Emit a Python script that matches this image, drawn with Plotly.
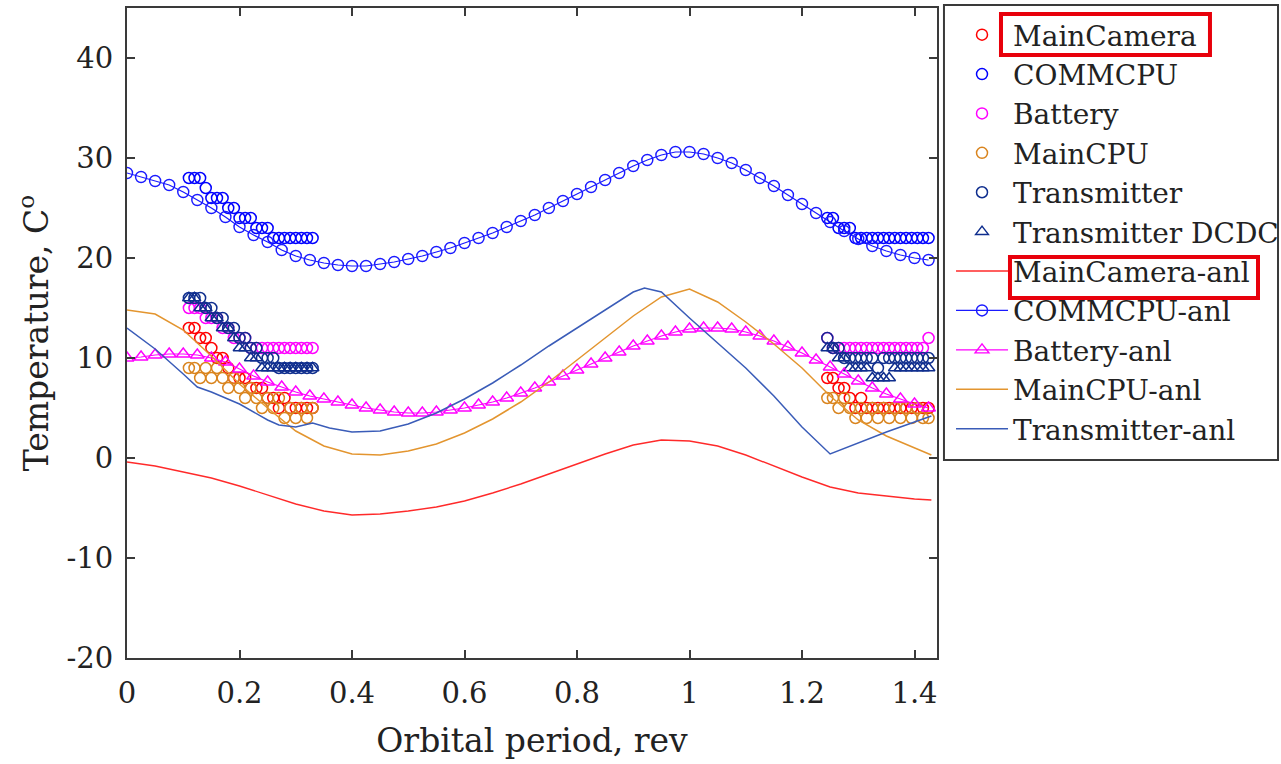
import plotly.graph_objects as go

# ---------------- data ----------------
# measurement windows (orbital period, rev)
t_left = [0.11, 0.12, 0.13, 0.14, 0.15, 0.16, 0.17, 0.18, 0.19, 0.20, 0.21, 0.22,
          0.23, 0.24, 0.25, 0.26, 0.27, 0.28, 0.29, 0.30, 0.31, 0.32, 0.33]
t_right = [1.245, 1.255, 1.265, 1.275, 1.285, 1.295, 1.305, 1.315, 1.325, 1.335,
           1.345, 1.355, 1.365, 1.375, 1.385, 1.395, 1.405, 1.415, 1.425]

maincam_left = [13, 13, 12, 12, 11, 10, 10, 9, 8, 8, 8, 7, 7, 7, 6, 6, 5, 6, 5, 5, 5, 5, 5]
maincam_right = [8, 8, 7, 7, 6, 5, 6, 5, 5, 5, 5, 5, 5, 5, 5, 5, 5, 5, 5]

commcpu_left = [28, 28, 28, 27, 26, 26, 26, 25, 25, 24, 24, 24, 23, 23, 23, 22, 22, 22, 22, 22, 22, 22, 22]
commcpu_right = [24, 24, 23, 23, 23, 22, 22, 22, 22, 22, 22, 22, 22, 22, 22, 22, 22, 22, 22]

battery_left = [15, 15, 15, 14, 14, 14, 13, 13, 12, 12, 12, 11, 11, 11, 11, 11, 11, 11, 11, 11, 11, 11, 11]
battery_right = [12, 11, 11, 11, 11, 11, 11, 11, 11, 11, 11, 11, 11, 11, 11, 11, 11, 11, 12]

maincpu_left = [9, 9, 8, 9, 8, 9, 8, 7, 8, 7, 6, 7, 6, 5, 6, 5, 6, 4, 5, 4, 5, 4, 5]
maincpu_right = [6, 6, 5, 6, 5, 4, 5, 4, 5, 4, 5, 4, 5, 4, 5, 4, 5, 4, 4]

transmitter_left = [16, 16, 16, 15, 15, 14, 14, 13, 13, 12, 12, 11, 11, 10, 10, 10, 9, 9, 9, 9, 9, 9, 9]
transmitter_right = [12, 11, 11, 10, 10, 10, 10, 10, 10, 9, 10, 10, 10, 10, 10, 10, 10, 10, 10]

dcdc_left = [16, 16, 15, 15, 14, 14, 13, 13, 12, 11, 11, 10, 10, 9, 9, 9, 9, 9, 9, 9, 9, 9, 9]
dcdc_right = [11, 11, 10, 10, 9, 9, 9, 9, 8, 8, 8, 8, 9, 9, 9, 9, 9, 9, 9]

# analytic curves
t_fine = [0.0, 0.025, 0.05, 0.075, 0.1, 0.125, 0.15, 0.175, 0.2, 0.225, 0.25, 0.275,
          0.3, 0.325, 0.35, 0.375, 0.4, 0.425, 0.45, 0.475, 0.5, 0.525, 0.55, 0.575,
          0.6, 0.625, 0.65, 0.675, 0.7, 0.725, 0.75, 0.775, 0.8, 0.825, 0.85, 0.875,
          0.9, 0.925, 0.95, 0.975, 1.0, 1.025, 1.05, 1.075, 1.1, 1.125, 1.15, 1.175,
          1.2, 1.225, 1.25, 1.275, 1.3, 1.325, 1.35, 1.375, 1.4, 1.425]
commcpu_anl = [28.5, 28.1, 27.7, 27.3, 26.6, 25.8, 25.0, 24.1, 23.1, 22.3, 21.6, 20.8,
               20.2, 19.8, 19.5, 19.3, 19.2, 19.2, 19.4, 19.6, 19.9, 20.2, 20.6, 21.0,
               21.5, 22.0, 22.5, 23.1, 23.7, 24.3, 25.0, 25.7, 26.4, 27.1, 27.8, 28.5,
               29.2, 29.8, 30.3, 30.6, 30.6, 30.4, 30.0, 29.5, 28.8, 28.0, 27.2, 26.3,
               25.4, 24.5, 23.6, 22.7, 21.9, 21.2, 20.7, 20.3, 20.0, 19.8]
battery_anl = [10.0, 10.1, 10.3, 10.4, 10.4, 10.3, 10.0, 9.6, 8.9, 8.2, 7.6, 7.1,
               6.6, 6.2, 5.9, 5.6, 5.3, 5.0, 4.8, 4.6, 4.5, 4.5, 4.6, 4.8,
               5.0, 5.3, 5.6, 6.0, 6.5, 7.0, 7.6, 8.2, 8.8, 9.4, 10.0, 10.6,
               11.2, 11.7, 12.2, 12.6, 12.9, 13.0, 13.0, 12.9, 12.6, 12.2, 11.7, 11.1,
               10.5, 9.8, 9.1, 8.4, 7.7, 7.0, 6.4, 5.9, 5.4, 5.0]

t_coarse = [0.0, 0.05, 0.1, 0.15, 0.2, 0.25, 0.3, 0.35, 0.4, 0.45, 0.5, 0.55, 0.6,
            0.65, 0.7, 0.75, 0.8, 0.85, 0.9, 0.95, 1.0, 1.05, 1.1, 1.15, 1.2, 1.25,
            1.3, 1.35, 1.4, 1.43]
maincam_anl = [-0.4, -0.8, -1.4, -2.0, -2.8, -3.7, -4.6, -5.3, -5.7, -5.6, -5.3, -4.9,
               -4.3, -3.5, -2.6, -1.6, -0.6, 0.4, 1.3, 1.8, 1.7, 1.2, 0.3, -0.8, -1.9,
               -2.9, -3.5, -3.8, -4.1, -4.2]
maincpu_anl = [14.8, 14.4, 12.8, 10.2, 7.4, 5.0, 2.7, 1.2, 0.4, 0.3, 0.7, 1.4, 2.5,
               3.9, 5.6, 7.6, 9.8, 12.0, 14.2, 16.1, 16.9, 15.6, 13.6, 11.4, 9.0, 6.2,
               3.8, 2.2, 1.0, 0.3]

t_trans = [0.0, 0.05, 0.1, 0.125, 0.15, 0.2, 0.25, 0.27, 0.3, 0.33, 0.36, 0.4, 0.45,
           0.5, 0.55, 0.6, 0.65, 0.7, 0.75, 0.8, 0.85, 0.9, 0.92, 0.95, 1.0, 1.05,
           1.1, 1.15, 1.2, 1.25, 1.3, 1.35, 1.4, 1.43]
transmitter_anl = [13.0, 10.9, 8.4, 7.1, 6.6, 5.4, 3.8, 3.3, 3.1, 3.5, 3.0, 2.6, 2.7,
                   3.4, 4.5, 5.9, 7.5, 9.3, 11.2, 13.0, 14.8, 16.6, 17.0, 16.6, 14.0,
                   11.5, 9.0, 6.2, 3.1, 0.4, 1.5, 2.6, 3.6, 4.2]

x_ticks = [0, 0.2, 0.4, 0.6, 0.8, 1.0, 1.2, 1.4]
x_ticktext = ["0", "0.2", "0.4", "0.6", "0.8", "1", "1.2", "1.4"]
y_ticks = [-20, -10, 0, 10, 20, 30, 40]
y_ticktext = ["-20", "-10", "0", "10", "20", "30", "40"]

# ---------------- figure ----------------
FONT = "DejaVu Serif"
RED = "#FF0000"
BLUE = "#0000FF"
MAGENTA = "#FF00FF"
ORANGE = "#D9841E"
NAVY = "#0F2E8E"

fig = go.Figure()


def meas(name, yl, yr, color, symbol="circle-open", size=11):
    fig.add_trace(go.Scatter(
        x=t_left + t_right, y=yl + yr, mode="markers", name=name,
        marker=dict(symbol=symbol, size=size, color=color, line=dict(width=1.5, color=color)),
    ))


meas("MainCamera", maincam_left, maincam_right, RED)
meas("COMMCPU", commcpu_left, commcpu_right, BLUE)
meas("Battery", battery_left, battery_right, MAGENTA)
meas("MainCPU", maincpu_left, maincpu_right, ORANGE)
meas("Transmitter", transmitter_left, transmitter_right, NAVY)
meas("Transmitter DCDC", dcdc_left, dcdc_right, NAVY, symbol="triangle-up-open", size=11)

fig.add_trace(go.Scatter(x=t_coarse, y=maincam_anl, mode="lines", name="MainCamera-anl",
                         line=dict(color="#FF2A2A", width=1.4)))
fig.add_trace(go.Scatter(x=t_fine, y=commcpu_anl, mode="lines+markers", name="COMMCPU-anl",
                         line=dict(color="#1A1AFF", width=1.2),
                         marker=dict(symbol="circle-open", size=11, color="#1A1AFF",
                                     line=dict(width=1.4, color="#1A1AFF"))))
fig.add_trace(go.Scatter(x=t_fine, y=battery_anl, mode="lines+markers", name="Battery-anl",
                         line=dict(color=MAGENTA, width=1.2),
                         marker=dict(symbol="triangle-up-open", size=12, color=MAGENTA,
                                     line=dict(width=1.4, color=MAGENTA))))
fig.add_trace(go.Scatter(x=t_coarse, y=maincpu_anl, mode="lines", name="MainCPU-anl",
                         line=dict(color="#E3952F", width=1.5)))
fig.add_trace(go.Scatter(x=t_trans, y=transmitter_anl, mode="lines", name="Transmitter-anl",
                         line=dict(color="#3A5CB8", width=1.5)))

axis_common = dict(
    showgrid=False, zeroline=False, showline=True, linecolor="#3a3a3a", linewidth=2,
    mirror="ticks", ticks="inside", ticklen=8, tickwidth=1.5, tickcolor="#3a3a3a",
    tickfont=dict(family=FONT, size=29, color="#222"),
)

fig.update_layout(
    width=1281, height=764,
    margin=dict(l=127, r=344, t=8, b=106, autoexpand=False),
    paper_bgcolor="white", plot_bgcolor="white",
    font=dict(family=FONT, color="#222"),
    xaxis=dict(range=[0, 1.44], tickvals=x_ticks, ticktext=x_ticktext,
               title=dict(text="Orbital period, rev", font=dict(family=FONT, size=33), standoff=20),
               ticklabelstandoff=8, **axis_common),
    yaxis=dict(range=[-20, 45], tickvals=y_ticks, ticktext=y_ticktext,
               title=dict(text="Temperature, C<sup>o</sup>", font=dict(family=FONT, size=33), standoff=8),
               ticklabelstandoff=6, **axis_common),
    legend=dict(x=1.0173, y=0.997, xanchor="left", yanchor="top",
                font=dict(family=FONT, size=28, color="#222"),
                bgcolor="rgba(0,0,0,0)", borderwidth=0, itemwidth=52,
                tracegroupgap=0),
    showlegend=True,
    shapes=[
        dict(type="rect", xref="paper", yref="paper", x0=1.0086, x1=1.4210, y0=0.3046, y1=1.0046,
             line=dict(color="#3a3a3a", width=2), fillcolor="rgba(0,0,0,0)"),
        dict(type="rect", xref="paper", yref="paper", x0=1.079, x1=1.337, y0=0.9277, y1=0.9908,
             line=dict(color="#E8000B", width=4), fillcolor="rgba(0,0,0,0)"),
        dict(type="rect", xref="paper", yref="paper", x0=1.0901, x1=1.3963, y0=0.5538, y1=0.6169,
             line=dict(color="#E8000B", width=4), fillcolor="rgba(0,0,0,0)"),
    ],
)

fig.write_html(
    "out.html",
    config={"displayModeBar": False},
    post_script="document.body.style.margin='0';document.body.style.overflow='hidden';",
)
